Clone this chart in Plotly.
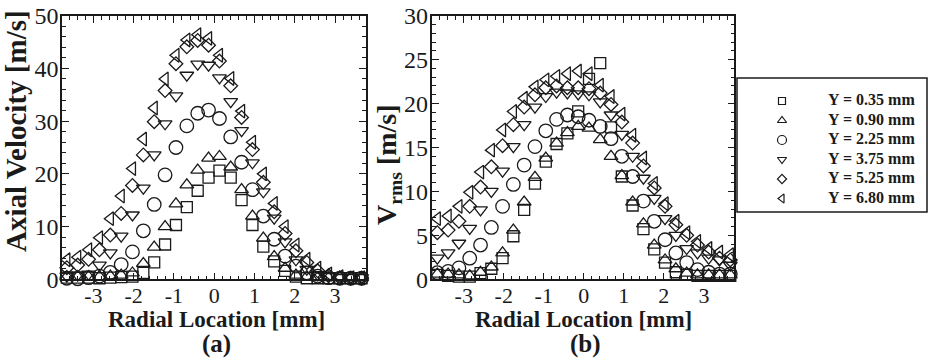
import plotly.graph_objects as go

# ---------------- data ----------------
radial_mm = [-3.66, -3.39, -3.12, -2.85, -2.58, -2.31, -2.03, -1.76, -1.49, -1.22,
             -0.95, -0.68, -0.41, -0.14, 0.13, 0.41, 0.68, 0.95, 1.22, 1.49,
             1.76, 2.03, 2.30, 2.57, 2.84, 3.12, 3.39, 3.66]

series_names = ["Y = 0.35 mm", "Y = 0.90 mm", "Y = 2.25 mm",
                "Y = 3.75 mm", "Y = 5.25 mm", "Y = 6.80 mm"]

# (a) axial velocity [m/s]
axial_035 = [0.3, 0.3, 0.3, 0.2, 0.3, 0.4, 0.5, 1.2, 3.2, 6.6, 10.3, 13.7, 16.8, 19.3, 20.6,
             19.3, 15.0, 10.3, 6.2, 3.4, 1.6, 0.5, 0.2, 0.2, 0.2, 0.2, 0.2, 0.2]
axial_090 = [0.5, 0.5, 0.5, 0.5, 0.6, 0.8, 1.2, 3.0, 6.1, 10.0, 14.3, 17.9, 20.7, 23.0, 23.3,
             21.3, 17.0, 12.0, 7.8, 4.3, 2.1, 0.8, 0.5, 0.3, 0.3, 0.3, 0.3, 0.3]
axial_225 = [0.2, 0.1, 0.3, 0.6, 1.3, 2.8, 5.2, 9.2, 14.2, 19.8, 25.0, 29.1, 31.5, 32.1, 30.5,
             27.0, 22.2, 17.0, 12.0, 7.6, 4.4, 2.5, 1.2, 0.6, 0.3, 0.2, 0.2, 0.2]
axial_375 = [0.6, 0.8, 1.0, 2.7, 5.0, 8.2, 12.2, 17.3, 23.6, 29.5, 34.8, 38.7, 40.8, 40.6, 38.2,
             33.7, 28.2, 22.1, 16.6, 11.6, 7.1, 3.7, 1.9, 0.9, 0.5, 0.3, 0.3, 0.3]
axial_525 = [2.2, 2.7, 3.8, 5.6, 8.4, 12.5, 17.8, 23.6, 29.9, 35.8, 40.9, 44.1, 45.3, 44.4, 41.4,
             36.7, 30.7, 24.6, 18.4, 12.8, 8.7, 5.4, 3.2, 1.6, 0.7, 0.3, 0.2, 0.2]
axial_680 = [3.7, 4.2, 5.6, 7.9, 11.5, 15.8, 21.0, 26.6, 32.5, 38.0, 42.5, 45.4, 46.4, 45.7, 42.5,
             38.1, 31.9, 26.0, 20.0, 14.4, 10.0, 6.5, 3.8, 2.1, 1.0, 0.5, 0.3, 0.3]

# (b) Vrms [m/s]
vrms_035 = [0.5, 0.4, 0.3, 0.3, 0.7, 1.2, 2.4, 4.9, 7.9, 10.9, 13.4, 15.4, 16.6, 19.1, 22.8,
            24.6, 17.3, 11.7, 8.4, 5.7, 3.4, 1.9, 0.8, 0.5, 0.4, 0.4, 0.4, 0.4]
vrms_090 = [0.6, 0.6, 0.5, 0.4, 0.8, 1.4, 3.0, 5.6, 8.8, 11.6, 13.8, 15.5, 16.7, 17.4, 17.2,
            15.9, 14.0, 11.8, 8.8, 6.3, 3.9, 2.2, 1.2, 0.7, 0.5, 0.5, 0.5, 0.5]
vrms_225 = [0.75, 0.9, 1.3, 2.4, 3.9, 5.9, 8.3, 10.8, 13.0, 15.1, 16.9, 18.2, 18.7, 18.5, 18.1,
            17.4, 16.0, 14.0, 11.7, 8.9, 6.6, 4.5, 3.0, 1.9, 1.1, 0.8, 0.6, 0.6]
vrms_375 = [2.4, 3.0, 4.1, 5.8, 7.9, 10.0, 12.3, 15.1, 17.6, 19.6, 20.8, 21.3, 21.2, 21.1, 21.0,
            20.2, 18.7, 16.5, 14.0, 11.5, 9.2, 6.9, 5.0, 3.5, 3.0, 2.4, 2.2, 1.6]
vrms_525 = [5.3, 5.6, 6.6, 8.3, 10.5, 12.8, 15.2, 17.6, 19.6, 21.0, 21.8, 22.0, 21.8, 21.8, 21.7,
            21.2, 19.9, 17.9, 15.5, 12.9, 10.4, 8.3, 6.2, 5.0, 3.9, 3.1, 2.4, 2.2]
vrms_680 = [6.9, 7.2, 8.3, 9.9, 12.2, 14.7, 17.0, 19.1, 20.6, 21.9, 22.7, 23.1, 23.4, 23.7, 23.4,
            22.1, 20.8, 18.8, 16.4, 13.8, 10.9, 8.6, 6.6, 5.3, 4.3, 3.5, 3.1, 2.8]

x_tickvals = [-3, -2, -1, 0, 1, 2, 3]
x_ticktext = ["-3", "-2", "-1", "0", "1", "2", "3"]
ya_tickvals = [0, 10, 20, 30, 40, 50]
yb_tickvals = [0, 5, 10, 15, 20, 25, 30]

axial_sets = [axial_035, axial_090, axial_225, axial_375, axial_525, axial_680]
vrms_sets = [vrms_035, vrms_090, vrms_225, vrms_375, vrms_525, vrms_680]

# legend rows (row index 0 = top)
legend_rows = [0, 1, 2, 3, 4, 5]

# ---------------- styling ----------------
symbols = ["square-open", "triangle-up-open", "circle-open",
           "triangle-down-open", "diamond-open", "triangle-left-open"]
sizes = [11, 12, 13.5, 12, 10.5, 12]
legend_sizes = [7, 8, 9, 8, 7, 8]
INK = "#1a1a1a"
SERIF = "Liberation Serif, Times New Roman, serif"

W, H = 928, 361


def px_x(p):
    return p / W


def px_y(p):
    return (H - p) / H


fig = go.Figure()

for i in range(6):
    fig.add_trace(go.Scatter(
        x=radial_mm, y=axial_sets[i], mode="markers", xaxis="x", yaxis="y",
        marker=dict(symbol=symbols[i], size=sizes[i], color=INK, line=dict(width=1.3, color=INK)),
        cliponaxis=False, showlegend=False, name=series_names[i]))
    fig.add_trace(go.Scatter(
        x=radial_mm, y=vrms_sets[i], mode="markers", xaxis="x2", yaxis="y2",
        marker=dict(symbol=symbols[i], size=sizes[i], color=INK, line=dict(width=1.3, color=INK)),
        cliponaxis=False, showlegend=False, name=series_names[i]))

# legend box content drawn on a hidden axis: markers + labels
for i in range(6):
    fig.add_trace(go.Scatter(
        x=[0], y=[legend_rows[i]], mode="markers", xaxis="x3", yaxis="y3",
        marker=dict(symbol=symbols[i], size=legend_sizes[i], color=INK, line=dict(width=1.2, color=INK)),
        cliponaxis=False, showlegend=False, hoverinfo="skip", name=series_names[i]))
fig.add_trace(go.Scatter(
    x=[1] * 6, y=legend_rows, mode="text", xaxis="x3", yaxis="y3",
    text=["<b>%s</b>" % s for s in series_names], textposition="middle right",
    textfont=dict(family=SERIF, size=16, color=INK),
    cliponaxis=False, showlegend=False, hoverinfo="skip"))

common_axis = dict(
    showline=True, linecolor=INK, linewidth=1.6, mirror="allticks",
    ticks="inside", ticklen=7, tickwidth=1.2, tickcolor=INK,
    showgrid=False, zeroline=False, automargin=False,
)

y_dom = [px_y(279.3), px_y(15.7)]
XT_FONT = dict(family=SERIF, size=22, color=INK)
YT_FONT = dict(family=SERIF, size=24, color=INK)

fig.update_layout(
    width=W, height=H,
    margin=dict(l=0, r=0, t=0, b=0, autoexpand=False),
    paper_bgcolor="white", plot_bgcolor="white",
    showlegend=False,
    xaxis=dict(domain=[px_x(62), px_x(366)], range=[-3.78, 3.77],
               tickmode="array", tickvals=x_tickvals, ticktext=x_ticktext, tickfont=XT_FONT,
               ticklabelstandoff=-5,
               minor=dict(dtick=0.2, ticklen=4, tickwidth=1, tickcolor=INK, ticks="inside"),
               anchor="y", **common_axis),
    yaxis=dict(domain=y_dom, range=[0, 50], tickmode="array", tickvals=ya_tickvals, tickfont=YT_FONT,
               ticklabelstandoff=-3,
               minor=dict(dtick=2, ticklen=4, tickwidth=1, tickcolor=INK, ticks="inside"),
               anchor="x", **common_axis),
    xaxis2=dict(domain=[px_x(431.7), px_x(734.3)], range=[-3.8, 3.76],
                tickmode="array", tickvals=x_tickvals, ticktext=x_ticktext, tickfont=XT_FONT,
                ticklabelstandoff=-5,
                minor=dict(dtick=0.2, ticklen=4, tickwidth=1, tickcolor=INK, ticks="inside"),
                anchor="y2", **common_axis),
    yaxis2=dict(domain=y_dom, range=[0, 30], tickmode="array", tickvals=yb_tickvals, tickfont=YT_FONT,
                ticklabelstandoff=-3,
                minor=dict(dtick=1, ticklen=4, tickwidth=1, tickcolor=INK, ticks="inside"),
                anchor="x2", **common_axis),
    # hidden axis for the legend box: x in "columns" (0 = symbol, 1 = text), y = row
    xaxis3=dict(domain=[px_x(782), px_x(828)], range=[0, 1], visible=False, fixedrange=True,
                anchor="y3", automargin=False),
    yaxis3=dict(domain=[px_y(198.5), px_y(101)], range=[5, 0], visible=False, fixedrange=True,
                anchor="x3", automargin=False),
    shapes=[dict(type="rect", xref="paper", yref="paper",
                 x0=px_x(737), x1=px_x(927), y0=px_y(212), y1=px_y(78),
                 line=dict(color=INK, width=1.5), fillcolor="rgba(0,0,0,0)", layer="below")],
    annotations=[
        dict(text="<b>Radial Location [mm]</b>", x=px_x(216), y=px_y(319), xref="paper", yref="paper",
             showarrow=False, xanchor="center", yanchor="middle",
             font=dict(family=SERIF, size=23, color=INK)),
        dict(text="<b>Radial Location [mm]</b>", x=px_x(583), y=px_y(319), xref="paper", yref="paper",
             showarrow=False, xanchor="center", yanchor="middle",
             font=dict(family=SERIF, size=23, color=INK)),
        dict(text="<b>(a)</b>", x=px_x(216), y=px_y(344), xref="paper", yref="paper",
             showarrow=False, xanchor="center", yanchor="middle",
             font=dict(family=SERIF, size=25, color=INK)),
        dict(text="<b>(b)</b>", x=px_x(585), y=px_y(344), xref="paper", yref="paper",
             showarrow=False, xanchor="center", yanchor="middle",
             font=dict(family=SERIF, size=25, color=INK)),
        dict(text="<b>Axial Velocity [m/s]</b>", x=px_x(16), y=px_y(131), xref="paper", yref="paper",
             showarrow=False, xanchor="center", yanchor="middle", textangle=-90,
             font=dict(family=SERIF, size=29, color=INK)),
        dict(text="<b>V<sub>rms</sub> [m/s]</b>", x=px_x(388), y=px_y(165), xref="paper", yref="paper",
             showarrow=False, xanchor="center", yanchor="middle", textangle=-90,
             font=dict(family=SERIF, size=28, color=INK)),
    ],
)

fig.write_html("out.html")
